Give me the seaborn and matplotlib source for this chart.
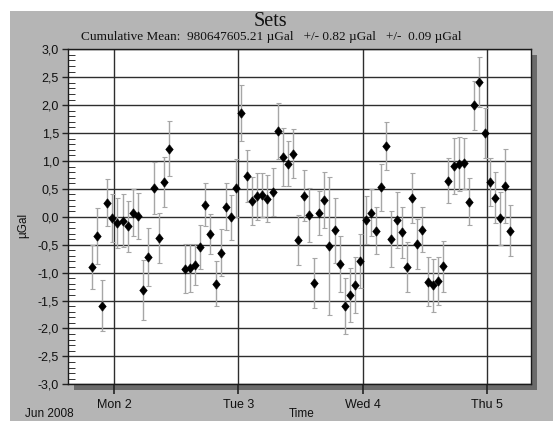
import matplotlib
matplotlib.use("Agg")
import matplotlib.pyplot as plt
from matplotlib.patches import Rectangle
from matplotlib.path import Path
from matplotlib.ticker import MultipleLocator, FuncFormatter
import pandas as pd
import seaborn as sns

# ---------------- data ----------------
times = [
    "2008-06-01 19:36", "2008-06-01 20:36", "2008-06-01 21:36", "2008-06-01 22:36",
    "2008-06-01 23:36", "2008-06-02 00:36", "2008-06-02 01:36", "2008-06-02 02:36",
    "2008-06-02 03:36", "2008-06-02 04:36", "2008-06-02 05:36", "2008-06-02 06:36",
    "2008-06-02 07:36", "2008-06-02 08:36", "2008-06-02 09:36", "2008-06-02 10:36",
    "2008-06-02 13:36", "2008-06-02 14:36", "2008-06-02 15:36", "2008-06-02 16:36",
    "2008-06-02 17:36", "2008-06-02 18:36", "2008-06-02 19:36", "2008-06-02 20:36",
    "2008-06-02 21:36", "2008-06-02 22:36", "2008-06-02 23:36", "2008-06-03 00:36",
    "2008-06-03 01:36", "2008-06-03 02:36", "2008-06-03 03:36", "2008-06-03 04:36",
    "2008-06-03 05:36", "2008-06-03 06:36", "2008-06-03 07:36", "2008-06-03 08:36",
    "2008-06-03 09:36", "2008-06-03 10:36", "2008-06-03 11:36", "2008-06-03 12:36",
    "2008-06-03 13:36", "2008-06-03 14:36", "2008-06-03 15:36", "2008-06-03 16:36",
    "2008-06-03 17:36", "2008-06-03 18:36", "2008-06-03 19:36", "2008-06-03 20:36",
    "2008-06-03 21:36", "2008-06-03 22:36", "2008-06-03 23:36", "2008-06-04 00:36",
    "2008-06-04 01:36", "2008-06-04 02:36", "2008-06-04 03:36", "2008-06-04 04:36",
    "2008-06-04 05:36", "2008-06-04 06:36", "2008-06-04 07:36", "2008-06-04 08:36",
    "2008-06-04 09:36", "2008-06-04 10:36", "2008-06-04 11:36", "2008-06-04 12:36",
    "2008-06-04 13:36", "2008-06-04 14:36", "2008-06-04 15:36", "2008-06-04 16:36",
    "2008-06-04 17:36", "2008-06-04 18:36", "2008-06-04 19:36", "2008-06-04 20:36",
    "2008-06-04 21:36", "2008-06-04 22:36", "2008-06-04 23:36", "2008-06-05 00:36",
    "2008-06-05 01:36", "2008-06-05 02:36", "2008-06-05 03:36", "2008-06-05 04:36",
]
gravity = [
    -0.90, -0.34, -1.59, 0.25, -0.03, -0.11, -0.07, -0.17, 0.07, 0.02,
    -1.31, -0.72, 0.52, -0.38, 0.62, 1.22,
    -0.93, -0.91, -0.86, -0.54, 0.22, -0.31, -1.20, -0.64, 0.18, -0.01,
    0.52, 1.86, 0.73, 0.28, 0.37, 0.39, 0.32, 0.45, 1.54, 1.07,
    0.95, 1.13, -0.41, 0.38, 0.03, -1.19, 0.07, 0.30, -0.52, -0.24,
    -0.84, -1.60, -1.40, -1.22, -0.79, -0.05, 0.07, -0.25, 0.53, 1.26,
    -0.40, -0.06, -0.28, -0.90, 0.34, -0.49, -0.23, -1.16, -1.23, -1.15,
    -0.89, 0.65, 0.91, 0.95, 0.96, 0.27, 2.00, 2.41, 1.50, 0.62,
    0.34, -0.03, 0.55, -0.25,
]
errors = [
    0.40, 0.50, 0.46, 0.42, 0.43, 0.45, 0.47, 0.46, 0.42, 0.41,
    0.54, 0.52, 0.47, 0.45, 0.45, 0.49,
    0.44, 0.43, 0.37, 0.40, 0.38, 0.36, 0.40, 0.42, 0.42, 0.40,
    0.52, 0.50, 0.47, 0.43, 0.42, 0.40, 0.42, 0.43, 0.50, 0.52,
    0.40, 0.44, 0.45, 0.46, 0.48, 0.45, 0.40, 0.50, 1.23, 0.58,
    0.50, 0.50, 0.48, 0.50, 0.48, 0.43, 0.42, 0.42, 0.42, 0.43,
    0.50, 0.50, 0.45, 0.45, 0.45, 0.45, 0.40, 0.44, 0.47, 0.43,
    0.46, 0.40, 0.50, 0.48, 0.46, 0.42, 0.44, 0.45, 0.45, 0.43,
    0.46, 0.47, 0.67, 0.46,
]
day_ticks = ["2008-06-02", "2008-06-03", "2008-06-04", "2008-06-05"]
day_labels = ["Mon 2", "Tue 3", "Wed 4", "Thu 5"]
x_range = ["2008-06-01 15:03", "2008-06-05 08:35"]
y_range = [-3.0, 3.0]
title = "Sets"
subtitle = "Cumulative Mean:  980647605.21 \u00b5Gal   +/- 0.82 \u00b5Gal   +/-  0.09 \u00b5Gal"
month_label = "Jun 2008"

# ---------------- style ----------------
sns.set_theme(style="white")
plt.rcParams['font.family'] = ['Liberation Sans', 'DejaVu Sans']

df = pd.DataFrame({"time": pd.to_datetime(times), "gravity": gravity, "err": errors})

W, H = 553, 421
fig = plt.figure(figsize=(W / 100, H / 100), dpi=100, facecolor='white')

# gray panel background and drop shadow of plot frame
fig.add_artist(Rectangle((10 / W, 0), 1 - 10 / W, 1 - 11 / H, transform=fig.transFigure,
                         facecolor='#b5b5b5', edgecolor='none', zorder=-3))
L, R, T, B = 68, 531, 49.3, 384.3
fig.add_artist(Rectangle(((L + 6) / W, 1 - (B + 6) / H), (R - L) / W, (B - T) / H,
                         transform=fig.transFigure, facecolor='#6b6b6b', edgecolor='none', zorder=-2))

ax = fig.add_axes([L / W, 1 - B / H, (R - L) / W, (B - T) / H])
ax.set_facecolor('white')

ax.errorbar(df["time"], df["gravity"], yerr=df["err"], fmt='none', ecolor='#a6a6a6',
            elinewidth=1.0, capsize=1.8, capthick=0.8, zorder=2)

diamond = Path([(0, 1), (0.8, 0), (0, -1), (-0.8, 0), (0, 1)],
               [Path.MOVETO, Path.LINETO, Path.LINETO, Path.LINETO, Path.CLOSEPOLY])
sns.scatterplot(data=df, x="time", y="gravity", marker=diamond, s=46, color='black',
                edgecolor='black', linewidth=0.4, ax=ax, zorder=3, legend=False)

ax.set_xlim(pd.to_datetime(x_range[0]), pd.to_datetime(x_range[1]))
ax.set_ylim(*y_range)
ax.set_xticks(pd.to_datetime(day_ticks))
ax.set_xticklabels(day_labels)
ax.yaxis.set_major_locator(MultipleLocator(0.5))
ax.yaxis.set_minor_locator(MultipleLocator(0.1))
ax.yaxis.set_major_formatter(FuncFormatter(lambda v, p: f"{v:.1f}".replace('.', ',')))

ax.grid(True, which='major', axis='both', color='#2e2e2e', linewidth=1.0, zorder=1)
ax.set_axisbelow(True)
for s in ax.spines.values():
    s.set_color('#1a1a1a')
    s.set_linewidth(1.0)

ax.tick_params(axis='y', which='major', direction='out', length=4.5, width=1.0, color='#222222',
               labelsize=9, pad=2, left=True, labelcolor='#111111')
ax.tick_params(axis='y', which='minor', direction='in', length=5, width=0.7, color='#333333', left=True)
ax.tick_params(axis='x', which='major', direction='out', length=7.5, width=1.2, color='#222222',
               labelsize=9, pad=3, bottom=True, labelcolor='#111111')

ax.set_xlabel("Time", fontsize=8.5, color='#111111')
ax.xaxis.set_label_coords((302 - L) / (R - L), -(408 - B) / (B - T))
ax.xaxis.label.set_va('top')
ax.set_ylabel("\u00b5Gal", fontsize=8.5, color='#111111')
ax.yaxis.set_label_coords((23 - L) / (R - L), (B - 225) / (B - T))
ax.yaxis.label.set_va('center')

fig.text(49.5 / W, 1 - 408 / H, month_label, fontsize=8.5, ha='center', va='top', color='#111111')
fig.text(270 / W, 1 - 21 / H, title, fontsize=14.5, ha='center', va='center',
         family=['Liberation Serif', 'DejaVu Serif'], color='#111111')
fig.text(271 / W, 1 - 37 / H, subtitle, fontsize=9.5, ha='center', va='center',
         family=['Liberation Serif', 'DejaVu Serif'], color='#111111')

fig.savefig("out.png", dpi=100, facecolor=fig.get_facecolor())
